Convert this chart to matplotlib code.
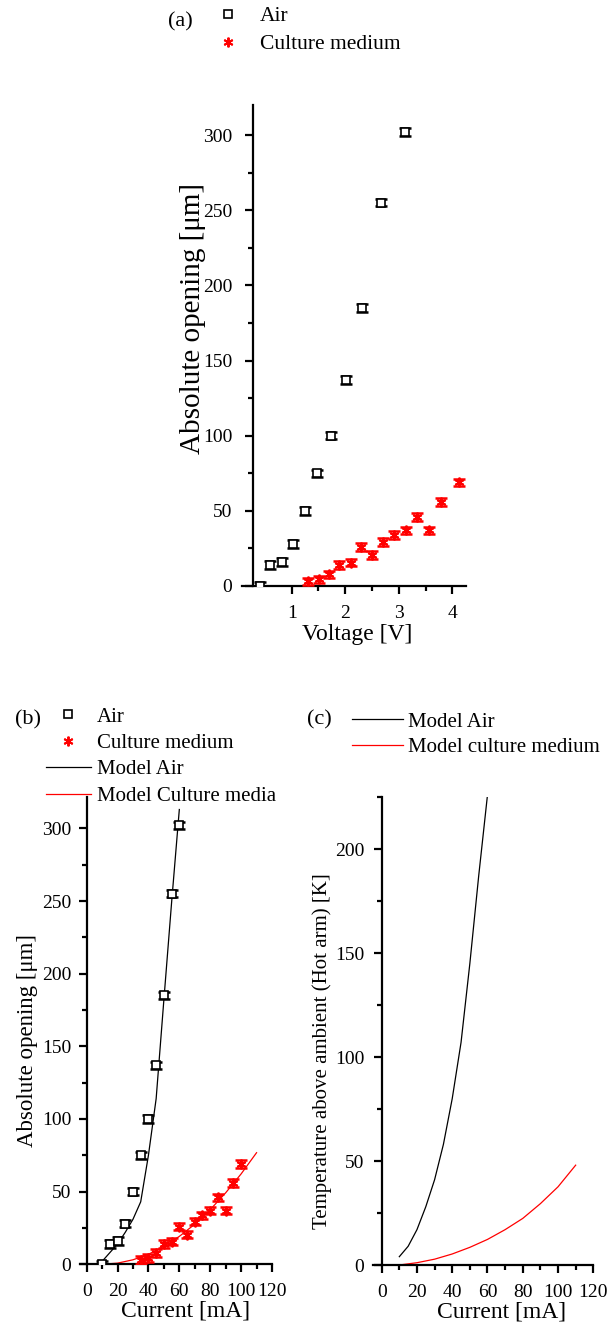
import matplotlib
matplotlib.use("Agg")
import matplotlib.pyplot as plt
from matplotlib.ticker import MultipleLocator, FixedLocator

plt.rcParams['font.family'] = ['Liberation Serif', 'DejaVu Serif']

# ---- data ----
voltage_air = [0.40, 0.60, 0.81, 1.03, 1.25, 1.48, 1.74, 2.01, 2.32, 2.67, 3.12]
current_air = [10, 15, 20, 25, 30, 35, 40, 45, 50, 55, 60]
opening_air = [0, 14, 16, 28, 50, 75, 100, 137, 185, 255, 302]

voltage_med = [1.31, 1.51, 1.70, 1.89, 2.10, 2.30, 2.50, 2.71, 2.92, 3.14, 3.34, 3.56, 3.79, 4.12]
current_med = [35, 40, 45, 50, 55, 60, 65, 70, 75, 80, 85, 90, 95, 100]
opening_med = [3, 4.4, 7.7, 14, 15.5, 26, 20.5, 29.4, 33.8, 37, 46, 37, 56, 69]

opening_err = 2.5

model_air_current = [10, 15, 20, 25, 30, 35, 40, 45, 50, 55, 60]
model_air_opening = [2, 8, 14, 22, 31, 43, 75, 114, 182, 249, 313]
model_med_current = [10, 20, 30, 40, 50, 60, 70, 80, 90, 100, 110]
model_med_opening = [0, 0.8, 3.1, 6.9, 12.3, 19.2, 27.6, 37.6, 49.2, 62.2, 76.8]

temp_air_current = [10, 15, 20, 25, 30, 35, 40, 45, 50, 55, 60]
temp_air = [4, 9, 17, 28, 41, 58, 80, 107, 145, 187, 226]
temp_med_current = [10, 20, 30, 40, 50, 60, 70, 80, 90, 100, 110]
temp_med = [0, 1.1, 2.8, 5.3, 8.5, 12.3, 17.0, 22.4, 29.5, 37.6, 48]

W, H = 614, 1326
fig = plt.figure(figsize=(W / 100, H / 100), dpi=100)


def px_box(x0, x1, ytop, ybot):
    return [x0 / W, 1 - ybot / H, (x1 - x0) / W, (ybot - ytop) / H]


def style_axes(ax, ypad):
    for s in ('top', 'right'):
        ax.spines[s].set_visible(False)
    for s in ('left', 'bottom'):
        ax.spines[s].set_linewidth(1.6)
    ax.tick_params(which='major', direction='out', length=6, width=1.6, labelsize=14)
    ax.tick_params(which='minor', direction='out', length=3.5, width=1.6)
    ax.tick_params(axis='x', which='major', pad=7.5)
    ax.tick_params(axis='y', which='major', pad=ypad)
    ax.tick_params(top=False, right=False)


def draw_points(ax, x, y, kind):
    if kind == 'air':
        ax.errorbar(x, y, yerr=opening_err, fmt='none', ecolor='black', elinewidth=1.2,
                    capsize=4, capthick=1.8, zorder=3)
        h, = ax.plot(x, y, ls='none', marker='s', ms=5.5, mfc='white', mec='black', mew=1.2, zorder=4)
    else:
        ax.errorbar(x, y, yerr=opening_err, fmt='none', ecolor='red', elinewidth=1.2,
                    capsize=4.5, capthick=1.8, zorder=3)
        h, = ax.plot(x, y, ls='none', marker=(6, 2, 0), ms=7, mec='red', mew=1.4, zorder=4)
    return h


# ---- (a) ----
ax_a = fig.add_axes(px_box(241.7, 466, 105, 586))
style_axes(ax_a, 8.5)
h_air = draw_points(ax_a, voltage_air, opening_air, 'air')
h_med = draw_points(ax_a, voltage_med, opening_med, 'med')
ax_a.set_xlim(0.066, 4.256)
ax_a.set_ylim(0, 320)
ax_a.spines['left'].set_position(('data', 0.27))
ax_a.xaxis.set_major_locator(FixedLocator([1, 2, 3, 4]))
ax_a.xaxis.set_minor_locator(FixedLocator([1.5, 2.5, 3.5]))
ax_a.yaxis.set_major_locator(MultipleLocator(50))
ax_a.yaxis.set_minor_locator(MultipleLocator(25))
ax_a.set_xlabel('Voltage [V]', fontsize=17)
ax_a.set_ylabel('Absolute opening [μm]', fontsize=21)
ax_a.xaxis.set_label_coords(0.514, -0.1)
ax_a.xaxis.label.set_va('center')
ax_a.yaxis.set_label_coords(-0.217, 0.557)
ax_a.yaxis.label.set_va('center')
fig.legend([h_air, h_med], ['Air', 'Culture medium'], loc='upper left',
           bbox_to_anchor=(217 / W, 1 - 6 / H), frameon=False, fontsize=15.5,
           handlelength=1.0, handletextpad=1.0, labelspacing=0.37,
           borderpad=0, borderaxespad=0)
fig.text(180 / W, 1 - 22 / H, '(a)', fontsize=16, ha='center', va='center')

# ---- (b) ----
ax_b = fig.add_axes(px_box(80, 272, 797, 1264.3))
style_axes(ax_b, 5)
hb_air = draw_points(ax_b, current_air, opening_air, 'air')
hb_med = draw_points(ax_b, current_med, opening_med, 'med')
hb_mair, = ax_b.plot(model_air_current, model_air_opening, color='black', lw=0.9, zorder=2)
hb_mmed, = ax_b.plot(model_med_current, model_med_opening, color='red', lw=0.9, zorder=2)
ax_b.set_xlim(-4.3, 120)
ax_b.set_ylim(0, 321.6)
ax_b.spines['left'].set_position(('data', 0))
ax_b.xaxis.set_major_locator(MultipleLocator(20))
ax_b.xaxis.set_minor_locator(MultipleLocator(10))
ax_b.yaxis.set_major_locator(MultipleLocator(50))
ax_b.yaxis.set_minor_locator(MultipleLocator(25))
ax_b.set_xlabel('Current [mA]', fontsize=17)
ax_b.set_ylabel('Absolute opening [μm]', fontsize=16.5)
ax_b.xaxis.set_label_coords(0.552, -0.101)
ax_b.xaxis.label.set_va('center')
ax_b.yaxis.set_label_coords(-0.271, 0.478)
ax_b.yaxis.label.set_va('center')
fig.legend([hb_air, hb_med, hb_mair, hb_mmed],
           ['Air', 'Culture medium', 'Model Air', 'Model Culture media'],
           loc='upper left', bbox_to_anchor=(46 / W, 1 - 707 / H), frameon=False,
           fontsize=15, handlelength=2.14, handletextpad=0.3, labelspacing=0.33,
           borderpad=0, borderaxespad=0)
fig.text(28.3 / W, 1 - 720 / H, '(b)', fontsize=16, ha='center', va='center')

# ---- (c) ----
ax_c = fig.add_axes(px_box(372.7, 593.3, 797, 1265))
style_axes(ax_c, 6.5)
hc_air, = ax_c.plot(temp_air_current, temp_air, color='black', lw=0.9)
hc_med, = ax_c.plot(temp_med_current, temp_med, color='red', lw=0.9)
ax_c.set_xlim(-5.1, 120)
ax_c.set_ylim(0, 225)
ax_c.spines['left'].set_position(('data', 0))
ax_c.xaxis.set_major_locator(MultipleLocator(20))
ax_c.xaxis.set_minor_locator(MultipleLocator(10))
ax_c.yaxis.set_major_locator(MultipleLocator(50))
ax_c.yaxis.set_minor_locator(MultipleLocator(25))
ax_c.set_xlabel('Current [mA]', fontsize=17)
ax_c.set_ylabel('Temperature above ambient (Hot arm) [K]', fontsize=15)
ax_c.xaxis.set_label_coords(0.585, -0.1)
ax_c.xaxis.label.set_va('center')
ax_c.yaxis.set_label_coords(-0.23, 0.457)
ax_c.yaxis.label.set_va('center')
fig.legend([hc_air, hc_med], ['Model Air', 'Model culture medium'],
           loc='upper left', bbox_to_anchor=(351.7 / W, 1 - 712 / H), frameon=False,
           fontsize=15, handlelength=2.46, handletextpad=0.22, labelspacing=0.3,
           borderpad=0, borderaxespad=0)
fig.text(319 / W, 1 - 720 / H, '(c)', fontsize=16, ha='center', va='center')

fig.savefig('out.png', dpi=100)
